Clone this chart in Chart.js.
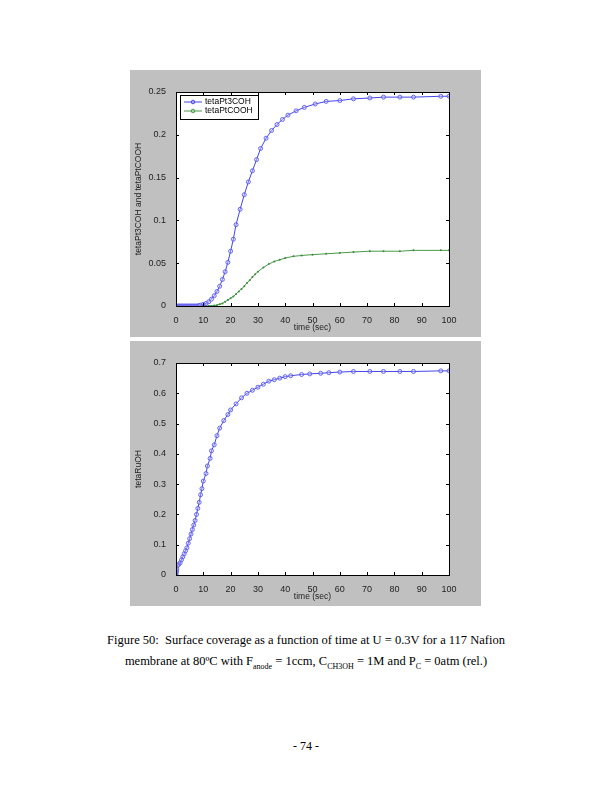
<!DOCTYPE html>
<html><head><meta charset="utf-8">
<script src="https://cdn.jsdelivr.net/npm/chart.js"></script>
<style>
body{margin:0;width:612px;height:792px;background:#fff;position:relative;font-family:"Liberation Serif","Times New Roman",serif;}
.panel{position:absolute;left:130px;width:351px;background:#c0c0c0;}
#p1{top:70px;height:267px}#p2{top:341px;height:265px}
.cap{position:absolute;left:0;width:612px;text-align:center;font-size:12.5px;color:#000;line-height:21px;top:630px}
.pg{position:absolute;left:0;width:612px;text-align:center;font-size:12px;top:739px}
</style></head><body>
<div class="panel" id="p1"><canvas id="c1"></canvas></div>
<div class="panel" id="p2"><canvas id="c2"></canvas></div>
<div class="cap">Figure 50:&nbsp; Surface coverage as a function of time at U = 0.3V for a 117 Nafion<br>membrane at 80ºC with F<sub style="font-size:8px">anode</sub> = 1ccm, C<sub style="font-size:8px">CH3OH</sub> = 1M and P<sub style="font-size:8px">C</sub> = 0atm (rel.)</div>
<div class="pg">- 74 -</div>
<script>
const xTicks=[0,10,20,30,40,50,60,70,80,90,100];
const blueX=[0,0.5,1,1.5,2,2.5,3,3.5,4,4.5,5,5.5,6,6.5,7,7.5,8,8.5,9,10,11,12,13,14,15,16,17,18,19,20,21,22,23.5,25,26.5,28,29.5,31,33,35,37,39,41,44,47,51,55,60,65,71,76,82,87,97,100];
const blueY=[0,0,0,0,0,0,0,0,0,0,0,0,0,0,0,0,0,0.0005,0.001,0.002,0.003,0.005,0.008,0.012,0.017,0.023,0.031,0.040,0.051,0.064,0.078,0.095,0.113,0.130,0.145,0.158,0.171,0.184,0.196,0.205,0.212,0.218,0.223,0.228,0.232,0.236,0.239,0.240,0.242,0.243,0.244,0.244,0.244,0.245,0.245];
const greenX=[0,1,2,3,4,5,6,7,8,9,10,11,12,13,14,15,16,17,18,19,20,21,22,23,24,25,26,27,28,29,30,32,34,36,38,40,43,46,50,55,60,65,71,76,82,87,97,100];
const greenY=[0,0,0,0,0,0,0,0,0,0,0,0,0,0,0.0005,0.001,0.002,0.003,0.005,0.007,0.009,0.011,0.014,0.017,0.020,0.023,0.027,0.030,0.034,0.037,0.040,0.045,0.049,0.052,0.054,0.056,0.058,0.059,0.060,0.061,0.062,0.063,0.064,0.064,0.064,0.065,0.065,0.065];
const ruX=[0,0.05,0.1,0.2,0.3,0.5,1,1.5,2,2.5,3,3.5,4,4.5,5,5.5,6,6.5,7,7.5,8,8.5,9,9.5,10,11,11.5,12.5,13,14,15,16,17.5,19,20,22,24,26,28,30,32,34,36,38,40,42,46,49,53,56,60,65,71,76,82,87,97,100];
const ruY=[0,0.005,0.01,0.015,0.02,0.03,0.035,0.04,0.05,0.06,0.07,0.08,0.09,0.105,0.12,0.135,0.15,0.165,0.18,0.20,0.22,0.24,0.265,0.285,0.31,0.335,0.36,0.385,0.41,0.43,0.46,0.485,0.51,0.53,0.545,0.565,0.585,0.60,0.61,0.62,0.63,0.64,0.645,0.65,0.655,0.658,0.662,0.664,0.666,0.668,0.670,0.672,0.672,0.672,0.672,0.672,0.674,0.674];
const y1Ticks=[0,0.05,0.1,0.15,0.2,0.25];
const y2Ticks=[0,0.1,0.2,0.3,0.4,0.5,0.6,0.7];
const pts=(xs,ys)=>xs.map((x,i)=>({x,y:ys[i]}));
const F='"Liberation Sans",Arial,sans-serif';
const boxPlugin={id:'box',
beforeDatasetsDraw(ch){const {ctx,chartArea:a}=ch;ctx.save();ctx.fillStyle='#fff';ctx.fillRect(a.left,a.top,a.right-a.left,a.bottom-a.top);ctx.restore();},
afterDraw(ch){const {ctx,chartArea:a,scales}=ch;ctx.save();ctx.strokeStyle='#000';ctx.lineWidth=1;
ctx.strokeRect(a.left+0.5,a.top+0.5,a.right-a.left,a.bottom-a.top);
scales.x.ticks.forEach(t=>{const p=Math.round(scales.x.getPixelForValue(t.value))+0.5;ctx.beginPath();ctx.moveTo(p,a.bottom);ctx.lineTo(p,a.bottom-3);ctx.moveTo(p,a.top);ctx.lineTo(p,a.top+3);ctx.stroke();});
scales.y.ticks.forEach(t=>{const p=Math.round(scales.y.getPixelForValue(t.value))+0.5;ctx.beginPath();ctx.moveTo(a.left,p);ctx.lineTo(a.left+3,p);ctx.moveTo(a.right,p);ctx.lineTo(a.right-3,p);ctx.stroke();});
const lg=ch.options.plugins.mylegend;
if(lg){const x=a.left+4,y=a.top+3;ctx.fillStyle='#fff';ctx.fillRect(x,y,78,24);ctx.strokeRect(x+0.5,y+0.5,78,24);
ctx.font='8.5px '+F;ctx.textBaseline='middle';
lg.forEach((it,i)=>{const yy=y+7+i*9;ctx.strokeStyle=it.c;ctx.beginPath();ctx.moveTo(x+4,yy);ctx.lineTo(x+22,yy);ctx.stroke();
ctx.beginPath();ctx.arc(x+13,yy,1.8,0,7);ctx.stroke();ctx.fillStyle='#000';ctx.fillText(it.t,x+25,yy);});}
ctx.restore();}};
function mk(id,h,ds,yt,ymax,ylab,leg){
const c=document.getElementById(id);c.width=351;c.height=h;c.style.width='351px';c.style.height=h+'px';
new Chart(c,{type:'scatter',data:{datasets:ds},plugins:[boxPlugin],options:{responsive:false,animation:false,devicePixelRatio:1,
layout:{padding:{top:22,right:32,left:0,bottom:0}},
plugins:{legend:{display:false},tooltip:{enabled:false},mylegend:leg},
scales:{x:{type:'linear',min:0,max:100,afterBuildTicks:s=>{s.ticks=xTicks.map(v=>({value:v}))},afterFit:s=>{s.height=31},
grid:{display:false},border:{display:false},ticks:{color:'#222',font:{family:F,size:9},padding:1,maxRotation:0},
title:{display:true,text:'time (sec)',color:'#222',font:{family:F,size:8.5},padding:{top:0}}},
y:{min:0,max:ymax,afterBuildTicks:s=>{s.ticks=yt.map(v=>({value:v}))},afterFit:s=>{s.width=46},
grid:{display:false},border:{display:false},ticks:{color:'#222',font:{family:F,size:9},padding:2,callback:v=>String(v)},
title:{display:true,text:ylab,color:'#222',font:{family:F,size:8.5},padding:{bottom:3}}}}}});}
mk('c1',267,[
{data:pts(blueX,blueY),showLine:true,borderColor:'#4545e8',backgroundColor:'rgba(200,200,255,0.3)',pointBorderColor:'#5a5af0',borderWidth:1,pointRadius:2,pointBorderWidth:0.9},
{data:pts(greenX,greenY),showLine:true,borderColor:'#4a9a4a',backgroundColor:'#3a8a3a',pointBorderColor:'#3a8a3a',borderWidth:1,pointRadius:1,pointBorderWidth:0}
],y1Ticks,0.25,'tetaPt3COH and tetaPtCOOH',[{t:'tetaPt3COH',c:'#4545e8'},{t:'tetaPtCOOH',c:'#4a9a4a'}]);
mk('c2',265,[
{data:pts(ruX,ruY),showLine:true,borderColor:'#4545e8',backgroundColor:'rgba(200,200,255,0.3)',pointBorderColor:'#5a5af0',borderWidth:1,pointRadius:2,pointBorderWidth:0.9}
],y2Ticks,0.7,'tetaRuOH',null);
</script></body></html>
